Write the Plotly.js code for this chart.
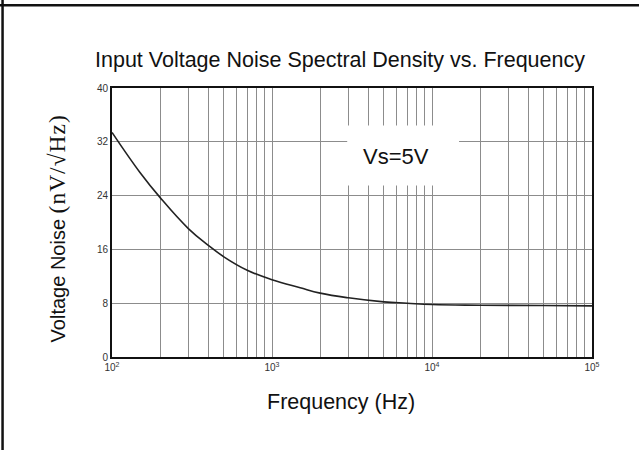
<!DOCTYPE html>
<html>
<head>
<meta charset="utf-8">
<script src="https://cdn.plot.ly/plotly-3.0.1.min.js"></script>
<style>html,body{margin:0;padding:0;background:#fff;}#chart{width:639px;height:450px;}</style>
</head>
<body>
<div id="chart"></div>
<script>
// Data
var frequencyHz = [100, 150, 200, 300, 400, 500, 700, 1000, 1500, 2000, 3000, 5000, 7000, 10000, 20000, 50000, 100000];
var noiseNV = [33.4, 27.4, 23.7, 19.1, 16.6, 14.9, 12.9, 11.5, 10.3, 9.5, 8.8, 8.2, 8.0, 7.8, 7.7, 7.65, 7.6];

var yTickVals = [0, 8, 16, 24, 32, 40];
var xTickVals = [100, 1000, 10000, 100000];
var xTickText = ['10<sup>2</sup>', '10<sup>3</sup>', '10<sup>4</sup>', '10<sup>5</sup>'];

var trace = {
  x: frequencyHz,
  y: noiseNV,
  type: 'scatter',
  mode: 'lines',
  line: {color: '#222', width: 1.6, shape: 'spline', smoothing: 1.2},
  hoverinfo: 'skip'
};

var fontFam = 'Liberation Sans, Arial, sans-serif';

var layout = {
  width: 639,
  height: 450,
  margin: {l: 112, r: 47, t: 87.5, b: 93},
  paper_bgcolor: '#fff',
  plot_bgcolor: '#fff',
  showlegend: false,
  title: {
    text: 'Input Voltage Noise Spectral Density vs. Frequency',
    font: {family: fontFam, size: 21.5, color: '#111'},
    x: 0.475, xanchor: 'center', xref: 'paper',
    y: 0.868, yanchor: 'middle', yref: 'container'
  },
  xaxis: {
    type: 'log',
    range: [2, 5],
    tickvals: xTickVals,
    ticktext: xTickText,
    ticks: '',
    showgrid: true,
    gridcolor: '#8c8c8c',
    gridwidth: 1,
    minor: {showgrid: true, gridcolor: '#8c8c8c', gridwidth: 1, dtick: 'D1', ticks: ''},
    showline: true, linecolor: '#111', linewidth: 2, mirror: true,
    zeroline: false,
    tickfont: {family: fontFam, size: 10, color: '#333'}
  },
  yaxis: {
    range: [0, 40],
    tickvals: yTickVals,
    ticks: '',
    showgrid: true,
    gridcolor: '#8c8c8c',
    gridwidth: 1,
    showline: true, linecolor: '#111', linewidth: 2, mirror: true,
    zeroline: false,
    tickfont: {family: fontFam, size: 10, color: '#333'}
  },
  shapes: [
    {type: 'rect', xref: 'paper', yref: 'paper', x0: 0.49, x1: 0.723, y0: 0.638, y1: 0.861,
     fillcolor: '#fff', line: {width: 0}, layer: 'above'},
    {type: 'line', xref: 'paper', yref: 'paper', x0: -0.3, x1: 1.2, y0: 1.308, y1: 1.308,
     line: {color: '#111', width: 2.5}},
    {type: 'line', xref: 'paper', yref: 'paper', x0: -0.228, x1: -0.228, y0: -0.4, y1: 1.33,
     line: {color: '#111', width: 2.5}}
  ],
  annotations: [
    {text: 'Vs=5V', xref: 'paper', yref: 'paper', x: 0.591, y: 0.744, xanchor: 'center', yanchor: 'middle',
     showarrow: false, font: {family: fontFam, size: 22, color: '#111'}},
    {text: 'Frequency (Hz)', xref: 'paper', yref: 'paper', x: 0.477, y: -0.167, xanchor: 'center', yanchor: 'middle',
     showarrow: false, font: {family: fontFam, size: 21.5, color: '#111'}},
    {text: 'Voltage Noise <span style="font-family:Liberation Serif, serif;font-size:23.5px;letter-spacing:1px">(nV/√Hz)</span>',
     xref: 'paper', yref: 'paper', x: -0.1146, y: 0.478, xanchor: 'center', yanchor: 'middle', textangle: -90,
     showarrow: false, font: {family: fontFam, size: 20, color: '#111'}}
  ]
};

Plotly.newPlot('chart', [trace], layout, {staticPlot: true, displayModeBar: false});
</script>
</body>
</html>
